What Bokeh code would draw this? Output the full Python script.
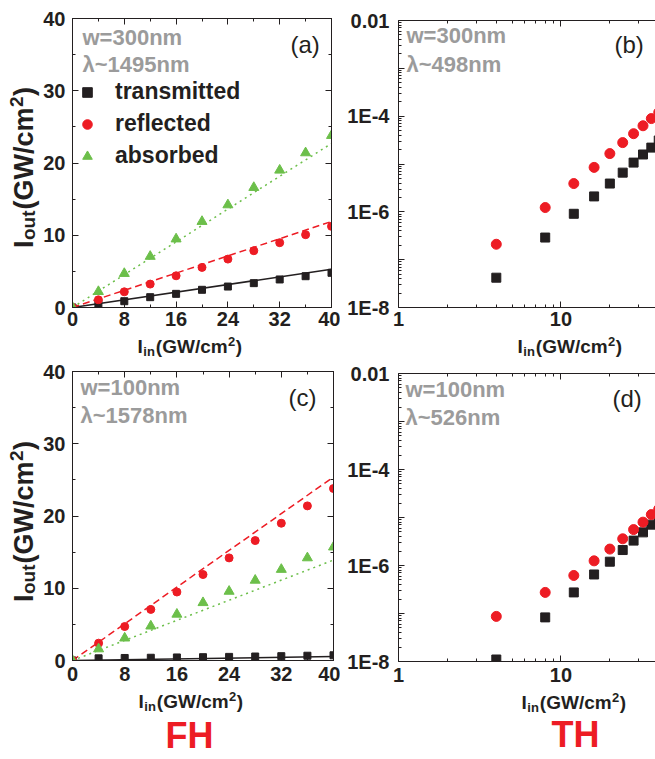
import math
from bokeh.plotting import figure
from bokeh.models import (Range1d, LinearAxis, LogAxis, FixedTicker, Grid,
                          CustomJSTickFormatter, Label, Legend, LegendItem)
from bokeh.core.properties import value
from bokeh.layouts import row, column
from bokeh.embed import file_html
from bokeh.resources import INLINE

# ---------------- data ----------------
x_lin = [0, 4, 8, 12, 16, 20, 24, 28, 32, 36, 40]
a_trans = [0, 0.51, 0.87, 1.43, 1.89, 2.45, 2.9, 3.37, 3.88, 4.33, 4.8]
a_refl = [0, 1.06, 2.17, 3.24, 4.39, 5.55, 6.7, 7.86, 8.97, 10.08, 11.23]
a_abs = [0, 2.2, 4.7, 7.07, 9.48, 11.9, 14.2, 16.6, 19.0, 21.4, 23.8]

c_trans = [0, 0.3, 0.35, 0.38, 0.42, 0.46, 0.5, 0.55, 0.6, 0.66, 0.72]
c_refl = [0, 2.4, 4.7, 7.07, 9.48, 11.9, 14.2, 16.6, 19.0, 21.4, 23.8]
c_abs = [0, 1.6, 3.1, 4.76, 6.4, 8.0, 9.57, 11.1, 12.6, 14.2, 15.7]

fit_x = [0, 40]
a_fit_trans = [0, 5.3]
a_fit_refl = [0, 11.9]
a_fit_abs = [0, 22.7]
c_fit_trans = [0, 0.55]
c_fit_refl = [0, 25.4]
c_fit_abs = [0, 13.9]

x_log = [4, 8, 12, 16, 20, 24, 28, 32, 36, 40]
b_refl = [2.1e-7, 1.23e-6, 3.9e-6, 8.5e-6, 1.65e-5, 2.8e-5, 4.3e-5, 6.3e-5, 8.9e-5, 1.2e-4]
b_trans = [4.2e-8, 2.9e-7, 9.1e-7, 2.1e-6, 3.9e-6, 6.6e-6, 1.07e-5, 1.58e-5, 2.2e-5, 3.1e-5]
d_refl = [8.7e-8, 2.75e-7, 6.2e-7, 1.25e-6, 2.2e-6, 3.6e-6, 5.6e-6, 8.0e-6, 1.15e-5, 1.5e-5]
d_trans = [1.1e-8, 8.3e-8, 2.75e-7, 6.5e-7, 1.2e-6, 2.1e-6, 3.3e-6, 4.9e-6, 7.1e-6, 9.5e-6]

lin_x_ticks = [0, 8, 16, 24, 32, 40]
lin_x_minor = [4, 12, 20, 28, 36]
lin_y_ticks = [0, 10, 20, 30, 40]
lin_y_minor = [5, 15, 25, 35]
log_x_ticks = [1, 10, 100]
log_x_minor = [2, 3, 4, 5, 6, 7, 8, 9, 20, 30, 40, 50, 60, 70, 80, 90]
log_y_ticks = [1e-8, 1e-7, 1e-6, 1e-5, 1e-4, 1e-3, 1e-2]
log_y_minor = [k * 10.0 ** e for e in range(-8, -2) for k in range(2, 10)]

legend_labels = ["transmitted", "reflected", "absorbed"]
panel_notes = {
    "a": ("w=300nm", "λ~1495nm", "(a)"),
    "b": ("w=300nm", "λ~498nm", "(b)"),
    "c": ("w=100nm", "λ~1578nm", "(c)"),
    "d": ("w=100nm", "λ~526nm", "(d)"),
}
group_labels = ["FH", "TH"]

# ---------------- style ----------------
FONT = "Liberation Sans"
INK = "#231f20"
RED = "#ed1c24"
GREEN = "#6cbf4a"
GRAY = "#9b9b9b"
MID = 0.37   # em distance between baseline and the middle of the text box

CHAR_W = {'I': 278, 'o': 611, 'u': 611, 't': 333, 'i': 278, 'n': 611, '(': 333,
          'G': 778, 'W': 944, '/': 278, 'c': 556, 'm': 889, '2': 556, ')': 333}


def text_w(s, size):
    return sum(CHAR_W[ch] for ch in s) * size / 1000.0


def add_text(p, x, y, text, size, color=INK, style="bold", align="left", angle=0.0):
    # (x, y): anchor in screen px from the frame's bottom-left, text box middle
    p.add_layout(Label(x=x, y=y, x_units="screen", y_units="screen", text=text,
                       text_font=FONT, text_font_size=f"{size}px",
                       text_font_style=style, text_color=color,
                       text_align=align, text_baseline="middle", angle=angle))


def add_base_text(p, x, y_base, text, size, **kw):
    add_text(p, x, y_base + MID * size, text, size, **kw)


def composite(p, x0, y0, parts, vertical=False):
    """x0, y0: start of the baseline. parts: (text, size, shift, gap)."""
    adv = 0.0
    for txt, size, shift, gap in parts:
        w = text_w(txt, size)
        if vertical:
            cx = x0 - shift - MID * size
            cy = y0 + adv + w / 2
            add_text(p, cx, cy, txt, size, align="center", angle=math.pi / 2)
        else:
            cx = x0 + adv + w / 2
            cy = y0 + shift + MID * size
            add_text(p, cx, cy, txt, size, align="center")
        adv += w + gap


X_PARTS = [("I", 19, 0, 0.5), ("in", 13, -3, 1), ("(GW/cm", 19, 0, 0.5),
           ("2", 13, 7, 0.5), (")", 19, 0, 0)]
Y_PARTS = [("I", 27, 0, 0.5), ("out", 19, -2.5, 1), ("(GW/cm", 27, 0, 0.5),
           ("2", 19, 10, 0.5), (")", 27, 0, 0)]
Y_LEN = sum(text_w(t, s) + g for t, s, _, g in Y_PARTS)


def style_axis(ax, hidden=False):
    ax.axis_line_color = INK
    ax.axis_line_width = 1
    ax.major_tick_line_color = INK
    ax.minor_tick_line_color = INK
    ax.major_tick_in = 6
    ax.major_tick_out = 0
    ax.minor_tick_in = 3
    ax.minor_tick_out = 0
    ax.major_label_text_font = FONT
    ax.major_label_text_font_style = "bold"
    ax.major_label_text_font_size = "20px"
    ax.major_label_text_color = INK
    if hidden:
        ax.formatter = CustomJSTickFormatter(code="return '';")
        ax.major_label_text_font_size = "0px"
        ax.major_label_standoff = 0


def strip(width, height):
    s = figure(width=width, height=height, x_axis_location=None, y_axis_location=None,
               x_range=Range1d(0, 1), y_range=Range1d(0, 1),
               toolbar_location=None, output_backend="svg", title=None,
               min_border=0)
    s.min_border_left = 0
    s.min_border_right = 0
    s.min_border_top = 0
    s.min_border_bottom = 0
    s.outline_line_color = None
    s.background_fill_color = "white"
    s.border_fill_color = "white"
    for g in s.select(type=Grid):
        g.visible = False
    return s


def make_fig(width, height, bl, br, bt, bb, log, x_standoff):
    if log:
        p = figure(width=width, height=height, x_axis_type="log", y_axis_type="log",
                   x_range=Range1d(1, 38.2), y_range=Range1d(1e-8, 1e-2),
                   toolbar_location=None, output_backend="svg", title=None)
    else:
        p = figure(width=width, height=height,
                   x_range=Range1d(0, 40), y_range=Range1d(0, 40),
                   toolbar_location=None, output_backend="svg", title=None)
    p.min_border_left = bl
    p.min_border_right = br
    p.min_border_top = bt
    p.min_border_bottom = bb
    p.grid.visible = False
    p.background_fill_color = "white"
    p.border_fill_color = "white"
    xa = p.xaxis[0]
    ya = p.yaxis[0]
    style_axis(xa)
    style_axis(ya)
    xa.major_label_standoff = x_standoff
    if log:
        p.outline_line_color = None
        xa.ticker = FixedTicker(ticks=log_x_ticks, minor_ticks=log_x_minor)
        ya.ticker = FixedTicker(ticks=log_y_ticks, minor_ticks=log_y_minor)
        xa.formatter = CustomJSTickFormatter(code="return String(Math.round(tick));")
        ya.formatter = CustomJSTickFormatter(code="""
            const e = Math.round(Math.log10(tick));
            if (e % 2 != 0) { return ''; }
            if (e == -2) { return '0.01'; }
            return '1E' + e;
        """)
        ya.major_label_standoff = 9
        top = LogAxis(ticker=FixedTicker(ticks=log_x_ticks, minor_ticks=log_x_minor))
        style_axis(top, hidden=True)
        p.add_layout(top, "above")
    else:
        p.outline_line_color = INK
        p.outline_line_width = 1
        xa.ticker = FixedTicker(ticks=lin_x_ticks, minor_ticks=lin_x_minor)
        ya.ticker = FixedTicker(ticks=lin_y_ticks, minor_ticks=lin_y_minor)
        ya.major_label_standoff = 7
        top = LinearAxis(ticker=FixedTicker(ticks=lin_x_ticks, minor_ticks=lin_x_minor))
        style_axis(top, hidden=True)
        p.add_layout(top, "above")
        right = LinearAxis(ticker=FixedTicker(ticks=lin_y_ticks, minor_ticks=lin_y_minor))
        style_axis(right, hidden=True)
        p.add_layout(right, "right")
    return p


def notes(p, key, gx, gy1, gy2, lx, ly):
    w, lam, tag = panel_notes[key]
    add_base_text(p, gx, gy1, w, 22, color=GRAY)
    add_base_text(p, gx, gy2, lam, 22, color=GRAY)
    add_base_text(p, lx, ly, tag, 24, style="normal")


# ---------------- panel (a) ----------------
pa = make_fig(300, 334, 30, 9, 18, 27, log=False, x_standoff=4)
pa.line(fit_x, a_fit_trans, line_color=INK, line_width=1.5)
pa.line(fit_x, a_fit_refl, line_color=RED, line_width=1.5, line_dash="7 4")
pa.line(fit_x, a_fit_abs, line_color=GREEN, line_width=1.5, line_dash="2 4")
ra1 = pa.scatter(x_lin, a_trans, marker="square", size=7, color=INK)
ra2 = pa.scatter(x_lin, a_refl, marker="circle", size=8, color=RED)
ra3 = pa.scatter(x_lin, a_abs, marker="triangle", size=10, color=GREEN)
legend = Legend(items=[LegendItem(label=value(legend_labels[0]), renderers=[ra1]),
                       LegendItem(label=value(legend_labels[1]), renderers=[ra2]),
                       LegendItem(label=value(legend_labels[2]), renderers=[ra3])],
                location=(3, 138), orientation="vertical", padding=0, margin=0,
                spacing=5, glyph_width=24, glyph_height=24, label_height=24,
                label_standoff=16, label_text_font=FONT,
                label_text_font_style="bold", label_text_font_size="23px",
                label_text_color=INK, background_fill_alpha=0,
                border_line_alpha=0)
pa.add_layout(legend)
notes(pa, "a", 10, 262, 235, 218, 254)

ylab_a = strip(40, 334)
composite(ylab_a, 33, (334 - 194) - Y_LEN / 2, Y_PARTS, vertical=True)
xlab_a = strip(340, 25)
composite(xlab_a, 137, 6.2, X_PARTS)

# ---------------- panel (b) ----------------
pb = make_fig(315, 334, 57, 0, 20, 27, log=True, x_standoff=4)
pb.scatter(x_log, b_trans, marker="square", size=9, color=INK)
pb.scatter(x_log, b_refl, marker="circle", size=10, color=RED)
notes(pb, "b", 8, 264, 235, 216, 254)
xlab_b = strip(315, 25)
composite(xlab_b, 119, 6.2, X_PARTS)

# ---------------- panel (c) ----------------
pc = make_fig(300, 330, 32, 7, 12, 29, log=False, x_standoff=6)
pc.line(fit_x, c_fit_trans, line_color=INK, line_width=1.5)
pc.line(fit_x, c_fit_refl, line_color=RED, line_width=1.5, line_dash="7 4")
pc.line(fit_x, c_fit_abs, line_color=GREEN, line_width=1.5, line_dash="2 4")
pc.scatter(x_lin, c_trans, marker="square", size=7, color=INK)
pc.scatter(x_lin, c_refl, marker="circle", size=8, color=RED)
pc.scatter(x_lin, c_abs, marker="triangle", size=10, color=GREEN)
notes(pc, "c", 8, 265, 237, 216, 254)

ylab_c = strip(40, 330)
composite(ylab_c, 33, (689 - 550) - Y_LEN / 2, Y_PARTS, vertical=True)
xlab_c = strip(340, 70)
composite(xlab_c, 138, 51, X_PARTS)
add_base_text(xlab_c, 189, 11, group_labels[0], 36, color=RED, align="center")

# ---------------- panel (d) ----------------
pd_ = make_fig(315, 331, 58, 0, 14, 29, log=True, x_standoff=6)
pd_.scatter(x_log, d_trans, marker="square", size=9, color=INK)
pd_.scatter(x_log, d_refl, marker="circle", size=10, color=RED)
notes(pd_, "d", 7, 264, 236, 214, 254)
xlab_d = strip(315, 69)
composite(xlab_d, 123, 50, X_PARTS)
add_base_text(xlab_d, 177, 12, group_labels[1], 36, color=RED, align="center")

left_col = column(row(ylab_a, pa), xlab_a, row(ylab_c, pc), xlab_c)
right_col = column(pb, xlab_b, pd_, xlab_d)
layout = row(left_col, right_col)
open("out.html", "w").write(file_html(layout, INLINE))
